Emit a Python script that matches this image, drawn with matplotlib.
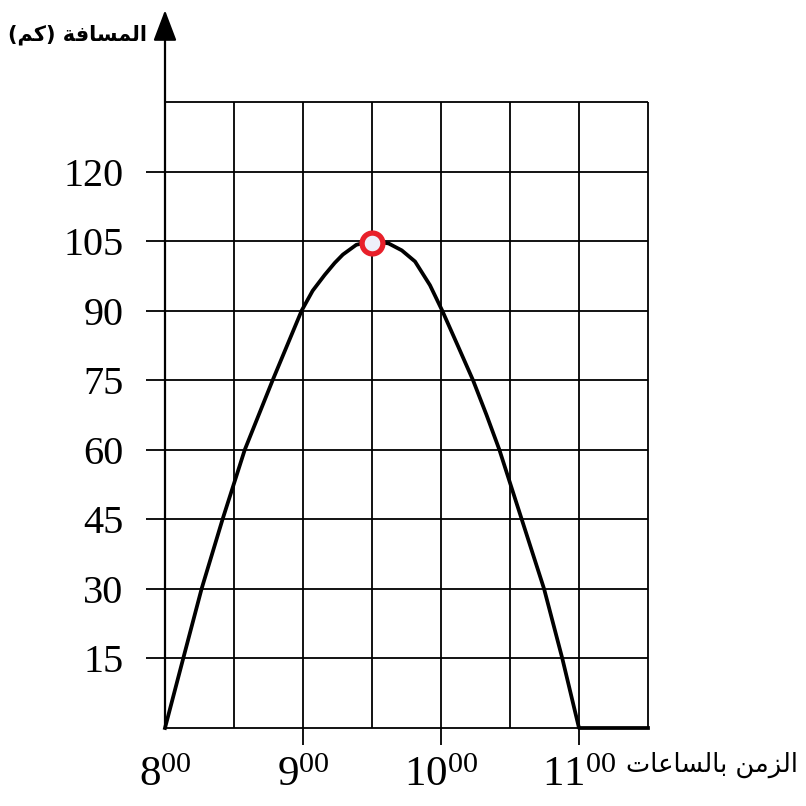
import numpy as np
import matplotlib.pyplot as plt

plt.rcParams['mathtext.fontset'] = 'custom'
plt.rcParams['mathtext.rm'] = 'Liberation Serif'
plt.rcParams['mathtext.it'] = 'Liberation Serif'

# data
time_h = [8.0, 8.132, 8.265, 8.417, 8.578, 8.78, 8.99, 9.07, 9.157, 9.23,
          9.289, 9.386, 9.5, 9.62, 9.716, 9.812, 9.92, 10.009, 10.124,
          10.232, 10.33, 10.423, 10.585, 10.747, 10.879, 11.0, 11.5]
dist_km = [0, 15, 30, 45, 60, 75, 90, 94.3, 97.7, 100.3,
           102.1, 104.2, 105, 104.5, 103, 100.6, 95.5, 90, 82.3,
           75, 67.5, 60, 45, 30, 15, 0, 0]
peak_t, peak_d = 9.5, 105

grid_x = [8.0, 8.5, 9.0, 9.5, 10.0, 10.5, 11.0, 11.5]
grid_y = [0, 15, 30, 45, 60, 75, 90, 105, 120, 135]
y_ticks = [15, 30, 45, 60, 75, 90, 105, 120]
x_ticks = [8, 9, 10, 11]
x_labels = ['8', '9', '10', '11']
y_title = 'المسافة (كم)'
x_title = 'الزمن بالساعات'

# simple arabic shaping (presentation forms), matplotlib has no bidi
FORMS = {
    'ا': ('\uFE8D', '\uFE8E', None, None),
    'ب': ('\uFE8F', '\uFE90', '\uFE91', '\uFE92'),
    'ة': ('\uFE93', '\uFE94', None, None),
    'ت': ('\uFE95', '\uFE96', '\uFE97', '\uFE98'),
    'ز': ('\uFEAF', '\uFEB0', None, None),
    'س': ('\uFEB1', '\uFEB2', '\uFEB3', '\uFEB4'),
    'ع': ('\uFEC9', '\uFECA', '\uFECB', '\uFECC'),
    'ف': ('\uFED1', '\uFED2', '\uFED3', '\uFED4'),
    'ك': ('\uFED9', '\uFEDA', '\uFEDB', '\uFEDC'),
    'ل': ('\uFEDD', '\uFEDE', '\uFEDF', '\uFEE0'),
    'م': ('\uFEE1', '\uFEE2', '\uFEE3', '\uFEE4'),
    'ن': ('\uFEE5', '\uFEE6', '\uFEE7', '\uFEE8'),
}

def shape(s):
    out = []
    for i, c in enumerate(s):
        if c not in FORMS:
            out.append(c)
            continue
        iso, fin, ini, med = FORMS[c]
        prev = s[i - 1] if i > 0 else None
        nxt = s[i + 1] if i + 1 < len(s) else None
        jp = prev in FORMS and FORMS[prev][2] is not None
        jn = nxt in FORMS and ini is not None
        if jp and jn:
            out.append(med)
        elif jp:
            out.append(fin)
        elif jn:
            out.append(ini)
        else:
            out.append(iso)
    vis = ''.join(out)[::-1]
    return vis.translate(str.maketrans('()', ')('))

fig = plt.figure(figsize=(8.06, 8.06), dpi=100)
ax = fig.add_axes([165 / 806, 1 - 728 / 806, 483 / 806, 626 / 806])
ax.set_xlim(8, 11.5)
ax.set_ylim(0, 135)
for s in ax.spines.values():
    s.set_visible(False)

# grid
ax.vlines(grid_x[1:], 0, 135, color='black', lw=1.3, clip_on=False)
ax.hlines(grid_y, 8, 11.5, color='black', lw=1.3, clip_on=False)

# tick stubs
ax.vlines([9, 10, 11], -3.7, 0, color='black', lw=1.3, clip_on=False)
ax.hlines(y_ticks, 8 - 0.14, 8, color='black', lw=1.3, clip_on=False)

# y axis with arrow
ax.annotate('', xy=(8, 154.8), xytext=(8, 0),
            arrowprops=dict(arrowstyle='-|>,head_length=1.9,head_width=0.72',
                            mutation_scale=10, lw=1.6, color='black',
                            shrinkA=0, shrinkB=0),
            annotation_clip=False)

# curve
ax.plot(time_h, dist_km, color='black', lw=2.7, clip_on=False,
        solid_joinstyle='round', zorder=3)
ax.plot([peak_t], [peak_d - 0.4], marker='o', ms=15, mec='#e8202a',
        mfc='#eef0fa', mew=3.8, clip_on=False, zorder=4)

ax.set_xticks(x_ticks)
ax.set_xticklabels([r'$\mathrm{%s}^{\mathrm{00}}$' % l for l in x_labels],
                   fontsize=31)
ax.set_yticks(y_ticks)
ax.set_yticklabels([str(v) for v in y_ticks], family='Liberation Serif',
                   fontsize=29)
ax.tick_params(axis='both', length=0)
ax.tick_params(axis='y', pad=30)
ax.tick_params(axis='x', pad=18)

fig.text(78 / 806, 1 - 35 / 806, shape(y_title), fontsize=15,
         fontweight='bold', family='DejaVu Sans', ha='center', va='center')
fig.text(626 / 806, 1 - 765 / 806, shape(x_title), fontsize=18.5,
         family='DejaVu Sans', ha='left', va='center')

fig.savefig('out.png', dpi=100)
